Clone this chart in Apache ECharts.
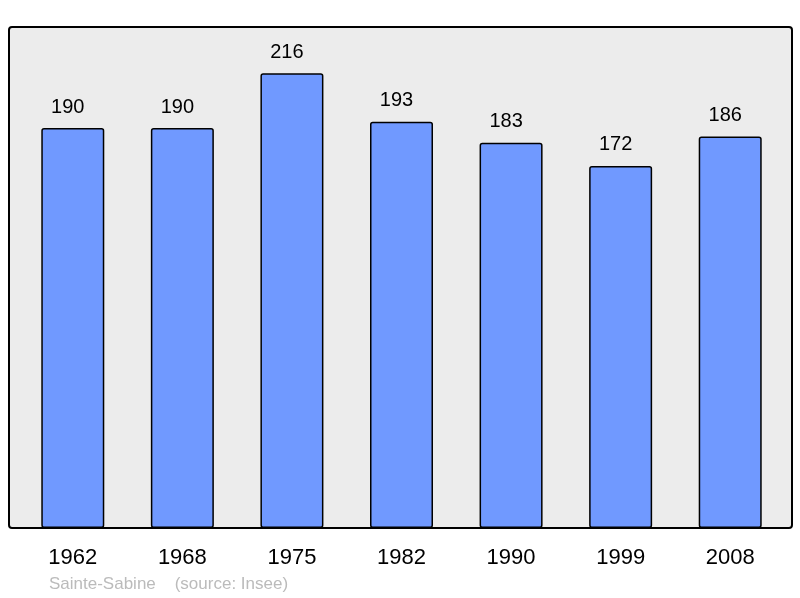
<!DOCTYPE html>
<html>
<head>
<meta charset="utf-8">
<script src="https://cdn.jsdelivr.net/npm/echarts@6/dist/echarts.min.js"></script>
<style>
  html, body { margin: 0; padding: 0; background: #fff; }
  #chart { width: 800px; height: 598px; }
</style>
</head>
<body>
<div id="chart"></div>
<script>
// population by census year
const years = ['1962', '1968', '1975', '1982', '1990', '1999', '2008'];
const population = [190, 190, 216, 193, 183, 172, 186];

var myChart = echarts.init(document.getElementById('chart'));

var option = {
    animation: false,
    textStyle: { fontFamily: 'Liberation Sans, Arial, sans-serif' },
    grid: { left: 18, right: 15, top: 27, bottom: 70 },
    graphic: [
        {
            type: 'rect',
            z: -10,
            shape: { x: 9, y: 27, width: 783, height: 501, r: 3 },
            style: { fill: '#ececec', stroke: '#000', lineWidth: 2 }
        },
        {
            type: 'text',
            left: 49,
            top: 576,
            style: {
                text: 'Sainte-Sabine    (source: Insee)',
                fill: '#bbbbbb',
                font: '17px Liberation Sans, Arial, sans-serif'
            }
        }
    ],
    xAxis: {
        type: 'category',
        data: years,
        axisLine: { show: false },
        axisTick: { show: false },
        axisLabel: { color: '#000', fontSize: 22, margin: 19 }
    },
    yAxis: {
        type: 'value',
        min: 0,
        max: 238,
        show: false
    },
    series: [{
        type: 'bar',
        data: population,
        barWidth: 63,
        itemStyle: {
            color: '#7099ff',
            borderColor: '#000',
            borderWidth: 1.5,
            borderRadius: 2
        },
        label: {
            show: true,
            position: 'top',
            distance: 11,
            offset: [-5, 0],
            color: '#000',
            fontSize: 20
        }
    }]
};

myChart.setOption(option);
</script>
</body>
</html>
